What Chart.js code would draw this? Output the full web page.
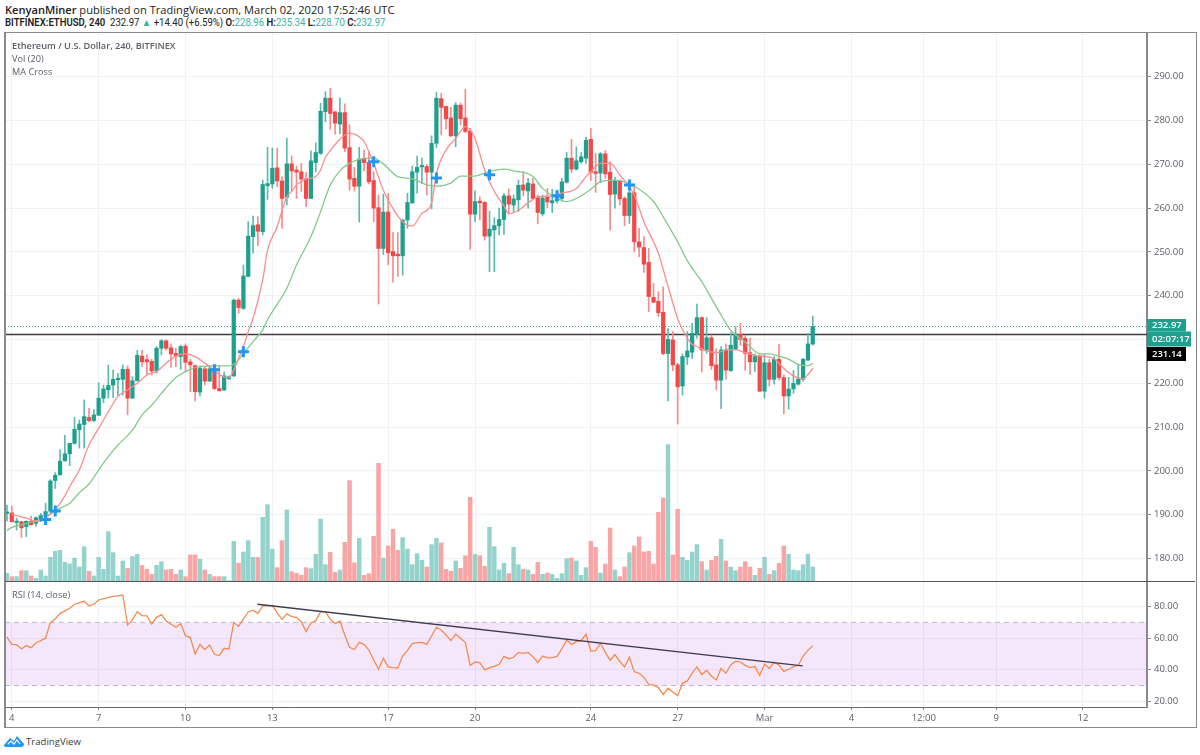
<!DOCTYPE html>
<html>
<head>
<meta charset="utf-8">
<title>ETHUSD 240</title>
<script src="https://cdn.jsdelivr.net/npm/chart.js@4"></script>
<style>
    html, body { margin: 0; padding: 0; background: #fff; width: 1200px; height: 755px; overflow: hidden; font-family: "Open Sans", sans-serif; }
    canvas { position: absolute; left: 5px; }
    #mainChart { top: 33px; }
    #rsiChart { top: 582px; }
    #frame { position: absolute; left: 4px; top: 32px; width: 1190px; height: 694px; border: 1px solid #8a8a8e; border-left-width: 2px; border-right-width: 1px; pointer-events: none; z-index: 3; }
    #split { position: absolute; left: 5px; top: 581px; width: 1190px; height: 1px; background: #55565c; z-index: 3; }
    .txt { position: absolute; white-space: nowrap; z-index: 4; color: #5a5e68; font-size: 9.2px; line-height: 13px; }
    .head { color: #222; font-size: 11.1px; }
    .head2 { color: #222; font-family: Roboto, sans-serif; font-size: 10.4px; transform: scaleX(0.92); transform-origin: left center; }
    .teal { color: #36b3a3; }
    b { font-weight: 600; }
</style>
</head>
<body>
<div class="txt head" style="left:5px;top:3px"><b>KenyanMiner</b> published on TradingView.com, March 02, 2020 17:52:46 UTC</div>
<div class="txt head2" style="left:5px;top:16px"><b>BITFINEX:ETHUSD, 240</b>&nbsp; 232.97 <span class="teal">▲</span> +14.40 (+6.59%) <b>O:</b><span class="teal">228.96</span> <b>H:</b><span class="teal">235.34</span> <b>L:</b><span class="teal">228.70</span> <b>C:</b><span class="teal">232.97</span></div>
<div class="txt" style="left:12px;top:39px"><b>Ethereum / U.S. Dollar, 240, BITFINEX</b></div>
<div class="txt" style="left:12px;top:52px">Vol (20)</div>
<div class="txt" style="left:12px;top:65px">MA Cross</div>
<div class="txt" style="left:12px;top:588px">RSI (14, close)</div>
<svg style="position:absolute;left:4px;top:735px;z-index:4" width="21" height="13" viewBox="0 0 21 13">
    <path d="M0 10 L6 3 L10 6 L13 1 L20 9 Q20 12 17 12 L3 12 Q0 12 0 10 Z" fill="#2196f3"/>
    <path d="M4 9 L7 6 L10 9 L13 5 L16 9" fill="none" stroke="#fff" stroke-width="1.2"/>
</svg>
<div class="txt" style="left:26px;top:735px;font-size:9.6px;color:#3c4048">TradingView</div>
<div id="frame"></div>
<div id="split"></div>
<canvas id="mainChart" width="1190" height="548"></canvas>
<canvas id="rsiChart" width="1190" height="145"></canvas>
<script>
// candles, 4h bars
const opens = [
    190.3, 190.4, 188.2, 188.4, 187.3, 188.5, 188, 188.6, 189.6, 190.8, 197.8, 199.1,
    202.3, 203.9, 206.3, 209.4, 210.6, 212.2, 211.5, 212.7, 216.6, 218.5, 219.6, 220.8,
    220.9, 223.2, 216.6, 220.6, 226.2, 225.4, 225, 222.8, 228, 229.7, 228.1, 226.8,
    226.1, 228.5, 224.9, 224, 218, 223.3, 220.5, 223.4, 218.8, 218.5, 221, 221.7,
    239, 237.1, 244.4, 253.5, 256.2, 254.6, 265.1, 265.5, 269.2, 266.2, 262.5, 270.1,
    268.7, 268.3, 266.7, 262.2, 270.4, 272.5, 282, 285.1, 282, 279.2, 281.8, 273.8,
    266.8, 265, 271.4, 270.5, 266.3, 260.1, 250.8, 259.1, 250.1, 249.5, 249.1, 257.3,
    261.2, 268.2, 269.4, 269.5, 268.2, 274.8, 285, 283.2, 280.6, 276.5, 283.5, 280.6,
    277.6, 258.6, 261.6, 261.3, 253.6, 255, 256, 257.4, 262.8, 260.7, 261.9, 265.3,
    263.9, 265.5, 262.5, 258.7, 262.6, 261.2, 261.7, 262.2, 265.9, 271.4, 268.9, 270.6,
    271.4, 275.7, 268.3, 268, 272.4, 268.2, 263.2, 266.2, 262.2, 258.3, 263.5, 252.3,
    251, 247.6, 239.6, 238.7, 236.2, 226.8, 229.9, 224.2, 219.4, 226, 227.1, 231.2,
    235, 227.6, 230.4, 224.2, 220.7, 227.6, 222.9, 227.8, 231.2, 230.3, 227, 224.9,
    226.2, 218.2, 224.7, 220.9, 225.5, 221.3, 217.1, 218.7, 219.8, 220.9, 225.3, 228.96
];
const highs = [
    192.2, 192, 189.2, 188.5, 188.6, 189.7, 189.5, 190.3, 192.6, 198, 199.6, 204.8,
    208.1, 206.3, 212.2, 211.6, 216.2, 214.3, 214, 220.1, 219.6, 224.2, 223, 222.3,
    224.2, 224, 221.5, 227.5, 227.5, 226.5, 225.5, 228.4, 230, 229.9, 229, 228,
    228.7, 229, 225.5, 224.2, 224, 223.8, 224, 224, 224, 222.6, 221.7, 239.2,
    239.4, 247, 256.9, 258.2, 258, 266.4, 273.9, 273.7, 273.7, 267.2, 276, 271.9,
    269.6, 270.2, 268.1, 273.1, 274.9, 283.9, 286.6, 287.3, 282, 285.1, 283.8, 279,
    269.3, 273.9, 273.3, 272.9, 268.3, 263, 263.2, 263.4, 254.4, 254.4, 257.3, 263.4,
    269.6, 271.9, 271.4, 269.9, 276.5, 286.4, 286.2, 283.3, 283, 284.1, 284, 287.1,
    278.2, 263.9, 262.6, 261.5, 259.3, 257.8, 260, 263.4, 264.4, 263, 266.4, 268.3,
    266.8, 266.8, 263, 263, 264.5, 264.3, 264.1, 266.8, 272.7, 275.7, 274, 272.7,
    276.2, 278.2, 272.5, 272.7, 273.1, 270.6, 267, 266.4, 262.6, 264.5, 265.5, 255.4,
    253.5, 250.8, 242.8, 240.9, 242, 232.5, 231.8, 224.6, 226.7, 231.8, 233.7, 238.1,
    235.2, 235, 231, 227.9, 228.4, 229, 231.5, 232.9, 233.7, 231, 230.3, 226.7,
    226.5, 226.7, 225.5, 226.1, 228.9, 221.9, 221.4, 222.9, 224.2, 225.7, 231.4, 235.34
];
const lows = [
    188.6, 188.3, 186.5, 184.8, 185, 187.6, 187.3, 188.4, 188.5, 190.4, 196, 199,
    202.2, 201.2, 206.1, 205.2, 205.2, 211.2, 211.2, 212.6, 215.6, 216.6, 216.7, 217.2,
    217.3, 212.8, 216.6, 220.5, 223.8, 221.9, 221.9, 222.3, 226.5, 227.6, 223.6, 223.8,
    223.2, 222.7, 218.1, 216, 217.1, 219.6, 220.4, 218.5, 218.2, 218.3, 220.9, 221.5,
    236, 236.9, 244.4, 249.7, 251.4, 253.9, 262, 264.5, 264.9, 255.4, 260.7, 263.8,
    262.2, 263.8, 260.3, 262.2, 268.3, 272.3, 279.7, 278, 276.9, 277, 272.9, 264.1,
    263.9, 256.8, 268.5, 265.5, 256.9, 238.1, 249.4, 247, 243.1, 244.4, 244.7, 255.4,
    261.1, 263.4, 265.6, 263, 259.8, 273.8, 276.7, 278, 276.3, 274, 279, 277.2,
    250.6, 256.9, 257.3, 252.7, 245.5, 245.5, 253.9, 254, 258.8, 259.2, 259.2, 262.8,
    260, 261.9, 256.4, 258.2, 260.1, 259, 261.1, 261.5, 265.7, 268.1, 268.7, 270.2,
    270.2, 266.3, 263.6, 265.8, 266.8, 255, 260, 260.7, 256, 256.5, 250, 248.9,
    245.3, 236.4, 238.4, 235.2, 226.5, 216, 222.9, 210.7, 217.3, 224.3, 225.7, 230.3,
    222.6, 226.8, 223.2, 218.5, 214.2, 220.9, 222.7, 227.6, 228.7, 223, 222, 222.7,
    218.1, 216.6, 219.4, 219.8, 220.7, 213, 214.1, 217.7, 219.6, 220.5, 225.2, 228.7
];
const closes = [
    190.54, 188.4, 188.5, 187, 188.5, 187.7, 189.3, 189.8, 190.7, 197.7, 199, 202.2,
    203.9, 206.3, 209.5, 210.7, 212.4, 211.5, 212.8, 216.6, 218.7, 219.5, 220.9, 221,
    223.2, 216.6, 220.6, 226.4, 224.9, 224.9, 222.8, 228, 229.7, 228, 226.7, 226.2,
    228.4, 224.8, 224.2, 218.1, 223.4, 220.5, 223.3, 218.8, 218.3, 221.7, 221.5, 239,
    237.3, 244.5, 253.6, 256, 254.7, 265.4, 265.6, 269.1, 266.2, 262.2, 270.1, 268.5,
    268.2, 266.6, 262.2, 270.8, 272.7, 282.1, 285.1, 281.6, 279.4, 281.8, 273.7, 266.6,
    265, 271.2, 270.4, 266, 260, 250.8, 259.1, 249.8, 249.1, 249.1, 257.3, 261.3,
    268.3, 269.3, 269.5, 268.2, 274.8, 285.1, 283, 280.4, 276.5, 283.5, 280.4, 277.5,
    258.6, 261.5, 261.2, 253.6, 255.2, 256, 257.4, 262.8, 260.9, 262.1, 265.2, 264.1,
    265.7, 262.2, 259, 262.3, 261.4, 261.7, 263, 266, 271.4, 268.9, 270.8, 271.7,
    275.5, 268.2, 267.9, 272.4, 267.8, 263.1, 266.3, 262.1, 258.3, 263.5, 252.3, 251.1,
    247.2, 239.8, 238.5, 236.1, 226.8, 230, 224.2, 219.2, 226.1, 227.4, 231.4, 235,
    227.6, 230.4, 224, 220.7, 227.6, 223, 228.7, 231.2, 230, 226.8, 224.9, 226.1,
    218.2, 224.7, 220.9, 225.5, 221.3, 217.1, 218.7, 220, 221, 225.5, 229, 232.97
];

// volume, relative units (only the bar heights are readable)
const volumes = [
    23, 13, 13, 31, 31, 15, 8, 33, 15, 71, 89, 92, 56, 51, 69, 42, 103, 29, 15, 71, 35, 148, 85, 15,
    60, 38, 73, 80, 47, 35, 20, 47, 58, 33, 35, 20, 33, 13, 78, 78, 65, 33, 20, 13, 13, 13, 1, 119,
    53, 87, 121, 71, 71, 191, 229, 96, 40, 121, 213, 28, 23, 17, 40, 37, 80, 186, 49, 86, 26, 33, 116, 301,
    55, 128, 17, 22, 134, 353, 69, 105, 155, 92, 130, 96, 49, 82, 62, 42, 109, 128, 114, 35, 29, 60, 38, 76,
    251, 80, 76, 44, 161, 103, 33, 53, 22, 101, 49, 35, 33, 20, 56, 20, 24, 20, 8, 22, 67, 69, 60, 17,
    40, 119, 101, 24, 51, 159, 33, 13, 42, 85, 105, 132, 87, 89, 51, 206, 249, 409, 78, 215, 71, 62, 87, 109,
    58, 33, 62, 74, 125, 60, 42, 31, 42, 58, 42, 17, 38, 71, 20, 31, 53, 105, 80, 33, 31, 49, 80, 42
];

// MA Cross lines, sampled where the curve bends: bar index + price
const maFastIdx = [1, 4, 6, 8, 10, 11, 12, 13, 15, 17, 19, 21, 23, 25, 27, 29, 31, 33, 35, 37, 39, 41, 43, 45, 46, 47, 48, 49, 50, 51, 53, 54, 56, 57, 58, 59, 60, 62, 64, 65, 66, 67, 69, 71, 73, 74, 76, 78, 80, 82, 84, 86, 88, 89, 91, 93, 95, 96, 97, 99, 101, 103, 104, 106, 108, 110, 113, 115, 118, 120, 121, 123, 125, 127, 130, 132, 135, 137, 139, 140, 141, 142, 143, 145, 147, 149, 151, 153, 155, 157, 159, 161, 163, 165, 166, 167];
const maFastVal = [190.1, 189.2, 188.6, 189.3, 191.1, 192.6, 194.3, 196.4, 200.2, 205.9, 209.7, 213.5, 217, 218.5, 220, 221.9, 222.7, 224.6, 226.2, 226.7, 226.1, 224.6, 222.9, 221.4, 221.3, 223, 225.7, 228.4, 231.8, 234.8, 243.6, 250.4, 255.8, 259.4, 262.6, 263.8, 265.3, 266.6, 267.2, 268.7, 271.6, 273.1, 275.7, 277.1, 276.3, 275.2, 270.2, 264.1, 259.9, 256.9, 255.9, 258.8, 261.1, 267.9, 273.3, 275.9, 278.6, 277.8, 275.9, 268.7, 263.8, 260.5, 258.7, 259.5, 261.2, 262.5, 262.8, 263.4, 264.5, 267.2, 268.3, 270.2, 270.2, 267.6, 263, 256.9, 249.7, 242.1, 234.8, 232.3, 230.3, 228.9, 228.4, 227.4, 227, 227.6, 227.7, 227, 226.4, 226.1, 225.6, 223.4, 221.7, 221, 222, 223.4];
const maSlowIdx = [0, 1, 3, 5, 7, 9, 11, 13, 15, 17, 19, 21, 23, 26, 28, 30, 32, 35, 38, 40, 43, 46, 47, 49, 51, 53, 54, 58, 60, 63, 65, 67, 69, 71, 73, 76, 78, 81, 84, 87, 89, 92, 94, 97, 99, 103, 106, 107, 109, 111, 114, 116, 119, 121, 123, 126, 130, 134, 136, 139, 141, 144, 146, 148, 150, 152, 154, 156, 158, 160, 162, 164, 166, 167];
const maSlowVal = [186.4, 187.1, 187.7, 188.3, 188.7, 190.2, 191.5, 192.6, 195, 197, 200.2, 203.25, 205.9, 209.3, 212.8, 215, 217.7, 221.3, 223.2, 223.8, 224, 224, 224.3, 226.8, 229.5, 232.2, 234.5, 241.7, 247, 253.5, 259.2, 265.3, 268.5, 270.2, 271.1, 271.4, 270.1, 267.2, 266.7, 265.3, 265, 265.7, 267.3, 267.3, 268, 268.9, 268.3, 268.2, 267.2, 264.5, 262.2, 261.5, 262.8, 264.3, 266, 266.4, 265, 261.5, 258, 252.3, 248, 243.2, 239.4, 235.6, 232, 230.3, 228.4, 226.7, 226.7, 226.2, 225.5, 224.3, 224, 224.6];

// blue MA Cross markers
const crossIdx = [8, 10, 43, 49, 76, 89, 100, 114, 129];
const crossVal = [188.9, 190.85, 223.1, 227.2, 270.6, 266.9, 267.6, 262.8, 265.3];

const rsiValues = [
    60.6, 56.1, 55.9, 53.2, 55.3, 54, 57, 58.5, 60, 70, 72.2, 75.6, 77.3, 79, 81.5, 82.5, 83.4, 80.4, 81.5, 84.2, 85, 85.7, 86.5, 86.8,
    87.4, 68.4, 71.6, 76.8, 74.3, 74.1, 69, 73.2, 74.9, 70.9, 68.8, 66.9, 69.2, 61.6, 60.4, 50, 56.1, 52.8, 55.7, 49.8, 49, 53.6, 53.2, 69.9,
    67.5, 72.2, 76.6, 77.7, 75.6, 80.4, 80.6, 80.8, 76, 71.8, 75.4, 73.7, 73.2, 70.5, 64.2, 69.6, 71.1, 76.8, 76.8, 72, 69.2, 70.9, 62, 54.2,
    52.8, 57.4, 56.1, 52.5, 46.2, 40.3, 47.3, 41.8, 41.4, 41.1, 48.7, 52.3, 56.6, 57.2, 57.4, 56.1, 61.4, 66.9, 65.2, 62, 58.5, 62.5, 59.9, 57.2,
    42.8, 44.9, 44.5, 39.9, 41.4, 42.2, 43.5, 48.5, 47, 47.9, 51, 50.4, 51, 48.3, 44.5, 48.7, 47.5, 47.7, 48.5, 53.2, 58.9, 56.1, 57.8, 58.5,
    62.5, 51.9, 52.1, 56.8, 51, 46, 49.6, 45.2, 41.8, 47.9, 38.8, 37.8, 35.2, 30.8, 30.2, 28.7, 24.2, 28.3, 25.9, 23.6, 31.4, 32.9, 37.8, 41.8,
    36.9, 39.7, 35.9, 33.5, 40.9, 37.8, 43, 45.4, 44.9, 42.8, 41.4, 42, 36.5, 43.5, 40.9, 44.7, 43, 39, 40.3, 41.8, 42.8, 48.7, 52.3, 55.3
];
const rsiTrendIdx = [51.9, 164.9];
const rsiTrendVal = [81.5, 42.4];
const rsiUpper = 70;
const rsiLower = 30;

const lastPrice = 232.97;
const drawnLevel = 231.14;
const countdown = '02:07:17';

const priceTicks = [180, 190, 200, 210, 220, 230, 240, 250, 260, 270, 280, 290];
const rsiTicks = [20, 40, 60, 80];
const timeTickIdx = [1, 19, 37, 55, 79, 97, 121, 139, 157, 175, 190, 205, 223];
const timeTickLabels = ['4', '7', '10', '13', '17', '20', '24', '27', 'Mar', '4', '12:00', '9', '12'];

const xMin = -0.41;
const xMax = 236.27;
const axisWidth = 48;
const upColor = '#1fa08f';
const downColor = '#f34848';
const gridColor = '#edf2f6';
const labelColor = '#5a5e68';
const labelFont = { family: 'Open Sans', size: 9.5 };

function pairs(xs, ys) {
    return xs.map(function (x, i) { return { x: x, y: ys[i] }; });
}

function isUp(i) {
    return closes[i] >= opens[i];
}

function perBar(upValue, downValue) {
    return opens.map(function (o, i) { return isUp(i) ? upValue : downValue; });
}

// the label padding chart.js adds would push the panes out of line with each other
function noPadding(axis) {
    axis.paddingLeft = 0;
    axis.paddingRight = 0;
    axis.paddingTop = 0;
    axis.paddingBottom = 0;
}

function xScale(showTicks) {
    return {
        type: 'linear',
        min: xMin,
        max: xMax,
        offset: false,
        grid: { color: gridColor, offset: false, drawTicks: showTicks, tickLength: 3, tickColor: '#8a8a8e' },
        border: { display: showTicks, color: '#6a6b72' },
        ticks: {
            display: showTicks,
            color: labelColor,
            font: labelFont,
            maxRotation: 0,
            padding: 3,
            callback: function (value) {
                return timeTickLabels[timeTickIdx.indexOf(value)];
            }
        },
        afterBuildTicks: function (axis) {
            axis.ticks = timeTickIdx.map(function (v) { return { value: v }; });
        },
        afterFit: function (axis) {
            axis.height = showTicks ? 20 : 0;
            noPadding(axis);
        }
    };
}

function yScale(min, max, tickValues) {
    return {
        position: 'right',
        min: min,
        max: max,
        grid: { color: gridColor, tickColor: '#8a8a8e', tickLength: 4 },
        border: { color: '#8a8a8e', width: 2 },
        ticks: {
            color: labelColor,
            font: labelFont,
            padding: 3,
            callback: function (value) { return value.toFixed(2); }
        },
        afterBuildTicks: function (axis) {
            axis.ticks = tickValues.map(function (v) { return { value: v }; });
        },
        afterFit: function (axis) {
            axis.width = axisWidth;
            noPadding(axis);
        }
    };
}

// price tags over the right axis
const priceTags = {
    id: 'priceTags',
    afterDraw: function (chart) {
        const ctx = chart.ctx;
        const left = chart.chartArea.right;
        const y = chart.scales.y.getPixelForValue(lastPrice);
        function tag(top, h, w, bg, text) {
            ctx.fillStyle = bg;
            ctx.fillRect(left, top, w, h);
            ctx.fillStyle = '#fff';
            ctx.font = '600 9.5px "Open Sans"';
            ctx.textAlign = 'left';
            ctx.textBaseline = 'middle';
            ctx.fillText(text, left + 5, top + h / 2 + 0.5);
        }
        tag(y - 7.5, 12.5, 39, '#1fa08f', lastPrice.toFixed(2));
        tag(y + 5, 15, 44, '#1fa08f', countdown);
        tag(y + 20.5, 14, 39, '#000', drawnLevel.toFixed(2));
    }
};

new Chart(document.getElementById('mainChart'), {
    type: 'bar',
    plugins: [priceTags],
    data: {
        datasets: [
            {
                type: 'line', order: 1, data: pairs(crossIdx, crossVal), showLine: false,
                pointStyle: 'cross', pointRadius: 5.5, pointBorderWidth: 3,
                pointBorderColor: '#2196f3', pointBackgroundColor: '#2196f3'
            },
            {
                type: 'line', order: 2, data: pairs(maFastIdx, maFastVal), borderColor: '#f98e8e',
                borderWidth: 1.3, pointRadius: 0, cubicInterpolationMode: 'monotone'
            },
            {
                type: 'line', order: 3, data: pairs(maSlowIdx, maSlowVal), borderColor: '#84c98d',
                borderWidth: 1.3, pointRadius: 0, cubicInterpolationMode: 'monotone'
            },
            {
                order: 4, grouped: false, barThickness: 3.6, minBarLength: 1.5,
                data: opens.map(function (o, i) { return { x: i, y: [o, closes[i]] }; }),
                backgroundColor: perBar(upColor, downColor)
            },
            {
                order: 5, grouped: false, barThickness: 1,
                data: lows.map(function (l, i) { return { x: i, y: [l, highs[i]] }; }),
                backgroundColor: perBar('#5db9ad', '#f88a8a')
            },
            {
                type: 'line', order: 6, data: pairs([xMin, xMax], [drawnLevel, drawnLevel]),
                borderColor: '#3c3c40', borderWidth: 1.3, pointRadius: 0
            },
            {
                type: 'line', order: 7, data: pairs([xMin, xMax], [lastPrice, lastPrice]),
                borderColor: '#26a69a', borderWidth: 1, borderDash: [1, 2], pointRadius: 0
            },
            {
                order: 8, grouped: false, barThickness: 3.8, yAxisID: 'yVol',
                data: volumes.map(function (v, i) { return { x: i, y: v }; }),
                backgroundColor: perBar('#94d3cc', '#f9a5a5')
            }
        ]
    },
    options: {
        responsive: false,
        animation: false,
        events: [],
        layout: { padding: 0, autoPadding: false },
        plugins: { legend: { display: false }, tooltip: { enabled: false } },
        scales: {
            x: xScale(false),
            y: yScale(174.86, 299.98, priceTicks),
            yVol: { display: false, min: 0, max: 1644 }
        }
    }
});

new Chart(document.getElementById('rsiChart'), {
    type: 'line',
    data: {
        datasets: [
            {
                order: 1, data: pairs(rsiTrendIdx, rsiTrendVal), borderColor: '#3f3d4c',
                borderWidth: 1.3, pointRadius: 0
            },
            {
                order: 2, data: rsiValues.map(function (v, i) { return { x: i, y: v }; }),
                borderColor: '#f58b4f', borderWidth: 1.3, pointRadius: 0
            },
            {
                order: 3, data: pairs([xMin, xMax], [rsiUpper, rsiUpper]),
                borderColor: '#c4b8c8', borderWidth: 1, borderDash: [5, 4], pointRadius: 0,
                fill: { value: rsiLower }, backgroundColor: 'rgba(155, 39, 220, 0.11)'
            },
            {
                order: 3, data: pairs([xMin, xMax], [rsiLower, rsiLower]),
                borderColor: '#c4b8c8', borderWidth: 1, borderDash: [5, 4], pointRadius: 0
            }
        ]
    },
    options: {
        responsive: false,
        animation: false,
        events: [],
        layout: { padding: 0, autoPadding: false },
        plugins: { legend: { display: false }, tooltip: { enabled: false } },
        scales: {
            x: xScale(true),
            y: yScale(16.4, 95.6, rsiTicks)
        }
    }
});
</script>
</body>
</html>
